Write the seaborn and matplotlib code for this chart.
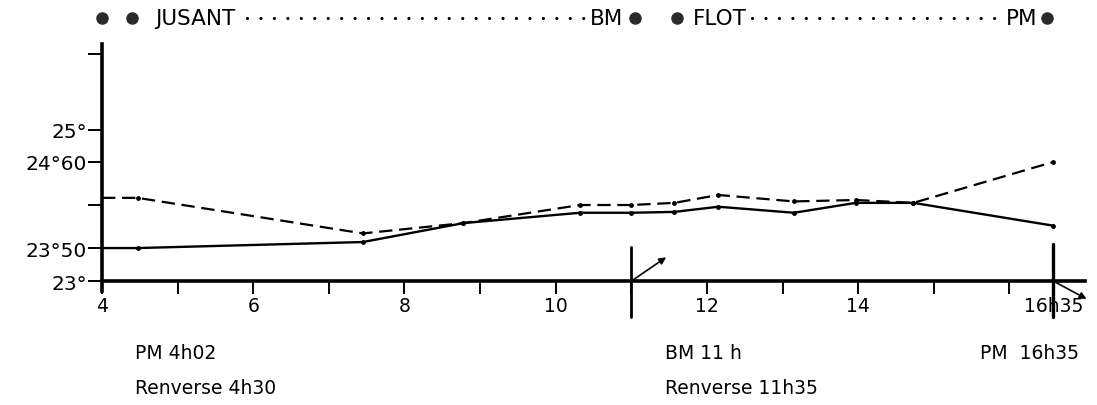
import numpy as np
import pandas as pd
import matplotlib
matplotlib.use("Agg")
import matplotlib.pyplot as plt
import seaborn as sns
from matplotlib.transforms import blended_transform_factory

# Heures des relevés (heures décimales) et températures (°C)
heures = [4.0, 4.47, 7.45, 8.78, 10.32, 11.0, 11.57, 12.15, 13.15, 13.97, 14.73, 16.58]
temp_tirets = [24.10, 24.10, 23.67, 23.79, 24.00, 24.00, 24.03, 24.14, 24.05, 24.07, 24.03, 24.60]
temp_plein = [23.50, 23.50, 23.57, 23.79, 23.91, 23.91, 23.92, 23.98, 23.91, 24.03, 24.03, 23.76]

x_ticks = [4, 5, 6, 7, 8, 9, 10, 11, 12, 13, 14, 15, 16, 16.58]
x_labels = ["4", "", "6", "", "8", "", "10", "", "12", "", "14", "", "", "16h35"]
y_ticks = [23, 23.5, 24, 24.6, 25, 26]
y_labels = ["23°", "23°50", "", "24°60", "25°", ""]

notes = [
    (0.123, 0.130, "PM 4h02"),
    (0.123, 0.044, "Renverse 4h30"),
    (0.606, 0.130, "BM 11 h"),
    (0.606, 0.044, "Renverse 11h35"),
    (0.893, 0.130, "PM  16h35"),
]

sns.set_style("white")
plt.rcParams["font.family"] = ["DejaVu Sans"]
plt.rcParams["text.color"] = "black"
plt.rcParams["xtick.color"] = "black"
plt.rcParams["ytick.color"] = "black"

fig = plt.figure(figsize=(10.97, 4.06), dpi=100)
ax = fig.add_axes([0.093, 0.2808, 0.8961, 0.6084])

# Échelle verticale graduée à la main : interpolation entre les repères
VB = np.array([22.0, 23.0, 23.5, 24.0, 24.6, 25.0, 26.0, 27.0])
PB = np.array([-66.0, 0.0, 33.0, 76.0, 119.0, 151.0, 227.0, 303.0])
ax.set_yscale("function", functions=(lambda v: np.interp(v, VB, PB),
                                     lambda p: np.interp(p, PB, VB)))

df = pd.DataFrame({"heure": heures, "tirets": temp_tirets, "plein": temp_plein})
marks = list(range(1, len(heures)))
sns.lineplot(data=df, x="heure", y="tirets", ax=ax, color="black", lw=1.6,
             linestyle=(0, (6, 3)), marker="o", markersize=3.5,
             markevery=marks, markeredgewidth=0)
sns.lineplot(data=df, x="heure", y="plein", ax=ax, color="black", lw=1.7,
             marker="o", markersize=3.5, markevery=marks, markeredgewidth=0)

ax.set_xlim(4, 17.0)
ax.set_ylim(22.85, 26.13)
ax.set_xlabel("")
ax.set_ylabel("")

for s in ["top", "right"]:
    ax.spines[s].set_visible(False)
ax.spines["left"].set_linewidth(2.6)
ax.spines["bottom"].set_linewidth(2.6)
ax.spines["bottom"].set_position(("data", 23))
ax.spines["left"].set_color("black")
ax.spines["bottom"].set_color("black")

ax.set_xticks(x_ticks)
ax.set_xticklabels(x_labels, fontsize=13.5)
ax.set_yticks(y_ticks)
ax.set_yticklabels(y_labels, fontsize=14.5)
ax.minorticks_off()
ax.tick_params(axis="x", bottom=True, direction="out", length=9, width=1.4,
               pad=2, colors="black")
ax.tick_params(axis="y", left=True, direction="out", length=10, width=1.4,
               pad=1, colors="black")

# Repères de basse mer et de pleine mer
ax.axvline(11.0, ymin=-0.105, ymax=0.178, color="black", lw=2.0, clip_on=False)
ax.axvline(16.58, ymin=-0.105, ymax=0.19, color="black", lw=2.4, clip_on=False)
ax.annotate("", xy=(11.46, 23.36), xytext=(11.0, 23.0),
            arrowprops=dict(arrowstyle="-|>", color="black", lw=1.2,
                            mutation_scale=10, shrinkA=0, shrinkB=0))
ax.annotate("", xy=(17.02, 22.73), xytext=(16.58, 23.0), annotation_clip=False,
            arrowprops=dict(arrowstyle="-|>", color="black", lw=1.2,
                            mutation_scale=10, shrinkA=0, shrinkB=0))

# Bandeau de marée en haut
trans = blended_transform_factory(ax.transData, fig.transFigure)
yb = 0.953
ax.plot([4.0, 4.4, 11.05, 11.6, 16.5], [yb] * 5, "o", ms=8, color="#2b2b2b",
        transform=trans, clip_on=False)
for x0, x1 in [(5.92, 10.38), (12.6, 15.88)]:
    ax.plot([x0, x1], [yb, yb], color="black", lw=2.3,
            linestyle=(0, (0.01, 4.2)), dash_capstyle="round",
            transform=trans, clip_on=False)
ax.text(4.70, yb, "JUSANT", transform=trans, ha="left", va="center", fontsize=15.5)
ax.text(10.89, yb, "BM", transform=trans, ha="right", va="center", fontsize=15.5)
ax.text(11.82, yb, "FLOT", transform=trans, ha="left", va="center", fontsize=15.5)
ax.text(16.37, yb, "PM", transform=trans, ha="right", va="center", fontsize=15.5)

for fx, fy, t in notes:
    fig.text(fx, fy, t, ha="left", va="center", fontsize=13.5)

fig.savefig("out.png", dpi=100, facecolor="white")
